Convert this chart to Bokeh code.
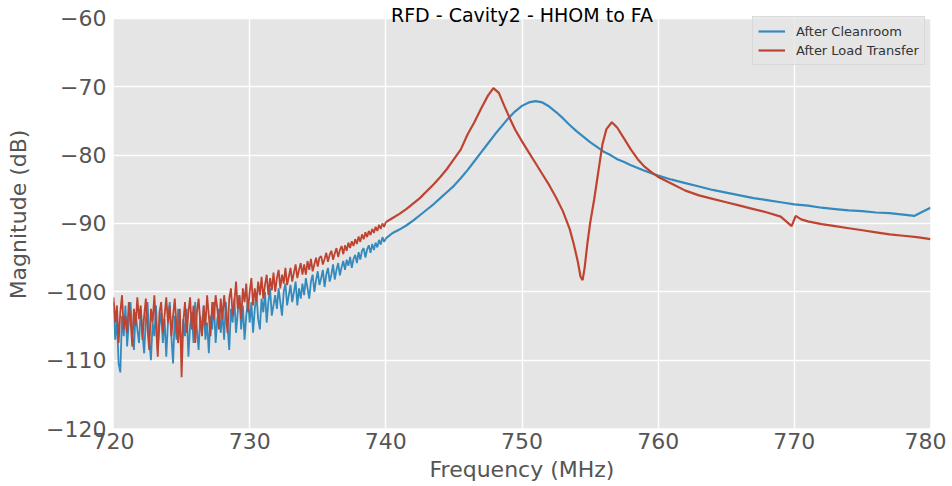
from bokeh.plotting import figure
from bokeh.models import Legend, LegendItem, Label, FixedTicker, Range1d, BoxAnnotation
from bokeh.embed import file_html
from bokeh.resources import INLINE

title_text = "RFD - Cavity2 - HHOM to FA"
x_label = "Frequency (MHz)"
y_label = "Magnitude (dB)"
series_names = ["After Cleanroom", "After Load Transfer"]
x_ticks = [720, 730, 740, 750, 760, 770, 780]
y_ticks = [-120, -110, -100, -90, -80, -70, -60]
x_limits = (720, 780)
y_limits = (-120, -60)

# noisy low-frequency segment (shared frequencies, one row per MHz)
freq_noisy = [
    720.0, 720.125, 720.25, 720.375, 720.5, 720.625, 720.75, 720.875,
    721.0, 721.125, 721.25, 721.375, 721.5, 721.625, 721.75, 721.875,
    722.0, 722.125, 722.25, 722.375, 722.5, 722.625, 722.75, 722.875,
    723.0, 723.125, 723.25, 723.375, 723.5, 723.625, 723.75, 723.875,
    724.0, 724.125, 724.25, 724.375, 724.5, 724.625, 724.75, 724.875,
    725.0, 725.125, 725.25, 725.375, 725.5, 725.625, 725.75, 725.875,
    726.0, 726.125, 726.25, 726.375, 726.5, 726.625, 726.75, 726.875,
    727.0, 727.125, 727.25, 727.375, 727.5, 727.625, 727.75, 727.875,
    728.0, 728.125, 728.25, 728.375, 728.5, 728.625, 728.75, 728.875,
    729.0, 729.125, 729.25, 729.375, 729.5, 729.625, 729.75, 729.875,
    730.0, 730.125, 730.25, 730.375, 730.5, 730.625, 730.75, 730.875,
    731.0, 731.125, 731.25, 731.375, 731.5, 731.625, 731.75, 731.875,
    732.0, 732.125, 732.25, 732.375, 732.5, 732.625, 732.75, 732.875,
    733.0, 733.125, 733.25, 733.375, 733.5, 733.625, 733.75, 733.875,
    734.0, 734.125, 734.25, 734.375, 734.5, 734.625, 734.75, 734.875,
    735.0, 735.125, 735.25, 735.375, 735.5, 735.625, 735.75, 735.875,
    736.0, 736.125, 736.25, 736.375, 736.5, 736.625, 736.75, 736.875,
    737.0, 737.125, 737.25, 737.375, 737.5, 737.625, 737.75, 737.875,
    738.0, 738.125, 738.25, 738.375, 738.5, 738.625, 738.75, 738.875,
    739.0, 739.125, 739.25, 739.375, 739.5, 739.625, 739.75, 739.875,
    740.0]

cleanroom_noisy = [
    -101.5, -107.0, -104.0, -110.5, -111.8, -103.5, -106.5, -102.0,
    -108.0, -104.5, -101.5, -106.5, -108.5, -103.0, -105.5, -107.5,
    -102.5, -106.0, -109.0, -104.0, -101.5, -107.0, -110.0, -104.5,
    -106.5, -102.0, -108.5, -105.0, -103.0, -107.5, -104.0, -109.5,
    -104.5, -101.5, -106.5, -110.5, -103.5, -107.0, -102.5, -105.5,
    -108.0, -104.0, -106.5, -102.5, -109.5, -105.0, -103.0, -107.5,
    -101.5, -105.5, -108.5, -103.5, -106.0, -102.0, -107.0, -104.5,
    -109.0, -103.5, -105.5, -101.5, -107.5, -104.0, -102.5, -106.0,
    -103.0, -107.0, -101.5, -105.0, -108.5, -102.5, -104.5, -101.0,
    -106.0, -103.0, -100.5, -105.5, -102.0, -107.0, -103.5, -101.0,
    -104.5, -101.5, -106.0, -102.5, -100.5, -104.0, -105.5, -101.0,
    -103.0, -100.0, -104.5, -101.5, -99.5, -103.5, -102.0, -100.5,
    -102.5, -99.5, -101.5, -103.5, -100.0, -98.8, -102.0, -100.5,
    -99.0, -101.5, -100.0, -98.5, -102.0, -99.5, -101.0, -98.8,
    -100.5, -98.0, -99.5, -101.0, -98.5, -97.5, -100.0, -98.3,
    -97.0, -99.0, -98.0, -96.8, -99.3, -97.5, -96.5, -98.5,
    -97.5, -96.0, -98.2, -96.8, -95.8, -97.6, -96.4, -95.5,
    -96.8, -95.3, -96.2, -94.9, -96.5, -95.2, -94.6, -95.8,
    -94.2, -95.3, -94.0, -93.6, -95.0, -93.8, -93.2, -94.3,
    -93.0, -93.9, -92.8, -93.5, -92.4, -93.1, -92.0, -92.7,
    -92.2]

load_noisy = [
    -100.8, -104.5, -102.0, -107.5, -103.0, -100.5, -105.5, -103.5,
    -106.0, -101.5, -104.0, -108.0, -102.5, -105.0, -100.8, -104.0,
    -102.0, -107.0, -103.5, -101.0, -105.5, -108.5, -102.5, -104.5,
    -100.5, -105.0, -109.5, -103.0, -101.5, -106.0, -103.5, -100.8,
    -104.5, -102.0, -106.5, -103.5, -101.0, -105.0, -107.5, -102.5,
    -112.5, -104.5, -101.5, -106.0, -103.0, -100.8, -105.5, -102.0,
    -107.5, -103.0, -101.0, -104.5, -106.5, -102.0, -105.0, -100.5,
    -103.5, -106.5, -101.5, -104.0, -100.5, -102.5, -105.5, -101.0,
    -104.0, -100.5, -103.0, -106.0, -101.0, -99.5, -103.5, -101.5,
    -98.5, -102.5, -100.5, -104.0, -99.5, -101.5, -98.8, -103.0,
    -100.0, -98.0, -102.0, -99.5, -101.5, -98.5, -100.5, -97.8,
    -101.0, -99.0, -97.5, -100.5, -98.0, -99.8, -97.2, -100.0,
    -98.0, -96.8, -99.5, -97.5, -98.8, -96.5, -99.0, -97.8,
    -96.5, -98.5, -97.2, -96.0, -98.0, -96.8, -95.8, -97.5,
    -96.0, -97.5, -95.5, -96.8, -95.2, -97.0, -96.0, -95.0,
    -96.3, -95.0, -94.8, -96.0, -95.2, -94.3, -95.6, -94.6,
    -94.0, -95.3, -94.4, -93.6, -94.9, -93.9, -93.3, -94.5,
    -93.2, -94.0, -92.8, -93.6, -92.6, -93.3, -92.3, -93.0,
    -91.9, -92.7, -91.6, -92.3, -91.3, -92.0, -91.1, -91.7,
    -90.8, -91.4, -90.5, -91.1, -90.2, -90.8, -90.0, -90.5,
    -89.8]

# smoother upper-frequency segments
cleanroom_freq = [740.0, 740.5, 741.0, 741.5, 742.0, 742.5, 743.0, 743.5, 744.0, 744.5, 745.0,
                  745.5, 746.0, 746.5, 747.0, 747.5, 748.0, 748.5, 749.0, 749.5, 750.0,
                  750.5, 751.0, 751.5, 752.0, 752.5, 753.0, 753.5, 754.0, 754.5, 755.0,
                  755.5, 756.0, 756.5, 757.0, 757.5, 758.0, 759.0, 760.0, 761.0, 762.0,
                  763.0, 764.0, 765.0, 766.0, 767.0, 768.0, 769.0, 770.0, 771.0, 772.0,
                  773.0, 774.0, 775.0, 776.0, 777.0, 778.0, 778.8, 779.3, 780.0]
cleanroom_db = [-92.2, -91.4, -90.9, -90.3, -89.6, -88.8, -88.0, -87.2, -86.3, -85.4, -84.5,
                -83.4, -82.2, -80.9, -79.6, -78.3, -77.0, -75.8, -74.6, -73.6, -72.8,
                -72.3, -72.1, -72.3, -72.9, -73.7, -74.6, -75.6, -76.5, -77.3, -78.1,
                -78.8, -79.5, -80.0, -80.6, -81.0, -81.5, -82.3, -83.0, -83.6, -84.1,
                -84.6, -85.1, -85.5, -85.9, -86.3, -86.6, -86.9, -87.2, -87.4, -87.7,
                -87.9, -88.1, -88.2, -88.4, -88.5, -88.7, -88.9, -88.4, -87.7]

load_freq = [740.0, 740.5, 741.0, 741.5, 742.0, 742.5, 743.0, 743.5, 744.0, 744.5, 745.0,
             745.5, 746.0, 746.5, 747.0, 747.5, 747.9, 748.3, 748.7, 749.1, 749.5,
             750.0, 750.5, 751.0, 751.5, 752.0, 752.5, 753.0, 753.5, 753.8, 754.1,
             754.3, 754.45, 754.6, 754.8, 755.0, 755.3, 755.6, 755.9, 756.2, 756.6,
             757.0, 757.5, 758.0, 758.5, 759.0, 759.5, 760.0, 761.0, 762.0, 763.0,
             764.0, 765.0, 766.0, 767.0, 768.0, 769.0, 769.8, 770.1, 770.5, 771.0,
             772.0, 773.0, 774.0, 775.0, 776.0, 777.0, 778.0, 779.0, 780.0]
load_db = [-89.8, -89.2, -88.6, -87.9, -87.1, -86.3, -85.3, -84.3, -83.2, -82.0, -80.6,
           -79.2, -77.0, -75.2, -73.2, -71.3, -70.2, -70.9, -72.8, -74.6, -76.3,
           -78.0, -79.6, -81.2, -82.8, -84.4, -86.2, -88.2, -90.8, -93.0, -95.6,
           -97.8, -98.3, -96.5, -93.0, -90.0, -86.5, -82.5, -78.5, -76.2, -75.2,
           -76.0, -77.6, -79.2, -80.6, -81.7, -82.5, -83.2, -84.2, -85.2, -85.9,
           -86.4, -86.9, -87.4, -87.9, -88.4, -89.0, -90.4, -88.9, -89.4, -89.7,
           -90.1, -90.4, -90.7, -91.0, -91.3, -91.6, -91.8, -92.0, -92.3]

BLUE = "#348ABD"
RED = "#BE4330"
FONT = "DejaVu Sans"
TXT = "#555555"

# The frame reaches the top of the canvas so that the title (drawn as a Label)
# sits in the white strip above the grey axes box.
FIG_H = 484
BOTTOM = 53
BOX_TOP_PX = 18
px_per_db = (FIG_H - BOTTOM - BOX_TOP_PX) / (y_limits[1] - y_limits[0])
y_top = y_limits[1] + BOX_TOP_PX / px_per_db

p = figure(width=946, height=FIG_H, output_backend="svg", toolbar_location=None,
           x_range=Range1d(*x_limits), y_range=Range1d(y_limits[0], y_top),
           min_border_left=113, min_border_right=16, min_border_top=0,
           min_border_bottom=BOTTOM)
p.background_fill_color = "white"
p.border_fill_color = "white"
p.outline_line_color = None

axes_box = BoxAnnotation(left=x_limits[0], right=x_limits[1], bottom=y_limits[0],
                         top=y_limits[1], fill_color="#E5E5E5", fill_alpha=1.0,
                         line_color=None, level="image")
p.add_layout(axes_box)

r_blue_a = p.line(freq_noisy, cleanroom_noisy, color=BLUE, line_width=1.8)
r_blue_b = p.line(cleanroom_freq, cleanroom_db, color=BLUE, line_width=2.2)
r_red_a = p.line(freq_noisy, load_noisy, color=RED, line_width=1.8)
r_red_b = p.line(load_freq, load_db, color=RED, line_width=2.2)

p.xaxis.ticker = FixedTicker(ticks=x_ticks)
p.yaxis.ticker = FixedTicker(ticks=y_ticks)
p.yaxis.major_label_overrides = {t: str(t).replace("-", "\u2212") for t in y_ticks}
p.xaxis.major_label_overrides = {t: str(t) for t in x_ticks}

for ax in (p.xaxis[0], p.yaxis[0]):
    ax.axis_line_color = None
    ax.major_tick_line_color = None
    ax.minor_tick_line_color = None
    ax.major_tick_out = 0
    ax.major_tick_in = 0
    ax.major_label_text_font = FONT
    ax.major_label_text_font_size = "22px"
    ax.major_label_text_color = TXT
    ax.axis_label_text_font = FONT
    ax.axis_label_text_font_size = "22px"
    ax.axis_label_text_font_style = "normal"
    ax.axis_label_text_color = TXT

p.xaxis.axis_label = x_label
p.yaxis.axis_label = y_label
p.xaxis.major_label_standoff = 4
p.xaxis.axis_label_standoff = 5
p.yaxis.major_label_standoff = 7
p.yaxis.axis_label_standoff = 12

p.grid.grid_line_color = "white"
p.grid.grid_line_width = 1.4

title = Label(x=sum(x_limits) / 2, y=y_limits[1] + 3.0 / px_per_db, text=title_text,
              text_font=FONT, text_font_size="19px", text_color="black",
              text_align="center", text_baseline="alphabetic")
p.add_layout(title)

legend = Legend(items=[LegendItem(label=series_names[0], renderers=[r_blue_b]),
                       LegendItem(label=series_names[1], renderers=[r_red_b])],
                location=(639, 363))
legend.label_text_font = FONT
legend.label_text_font_size = "13px"
legend.label_text_color = "#333333"
legend.glyph_width = 27
legend.glyph_height = 18
legend.label_height = 18
legend.label_standoff = 11
legend.spacing = 1
legend.padding = 5
legend.margin = 0
legend.background_fill_color = "#E5E5E5"
legend.background_fill_alpha = 0.8
legend.border_line_color = "#CCCCCC"
legend.border_line_width = 1
p.add_layout(legend)

open("out.html", "w").write(file_html(p, INLINE))
